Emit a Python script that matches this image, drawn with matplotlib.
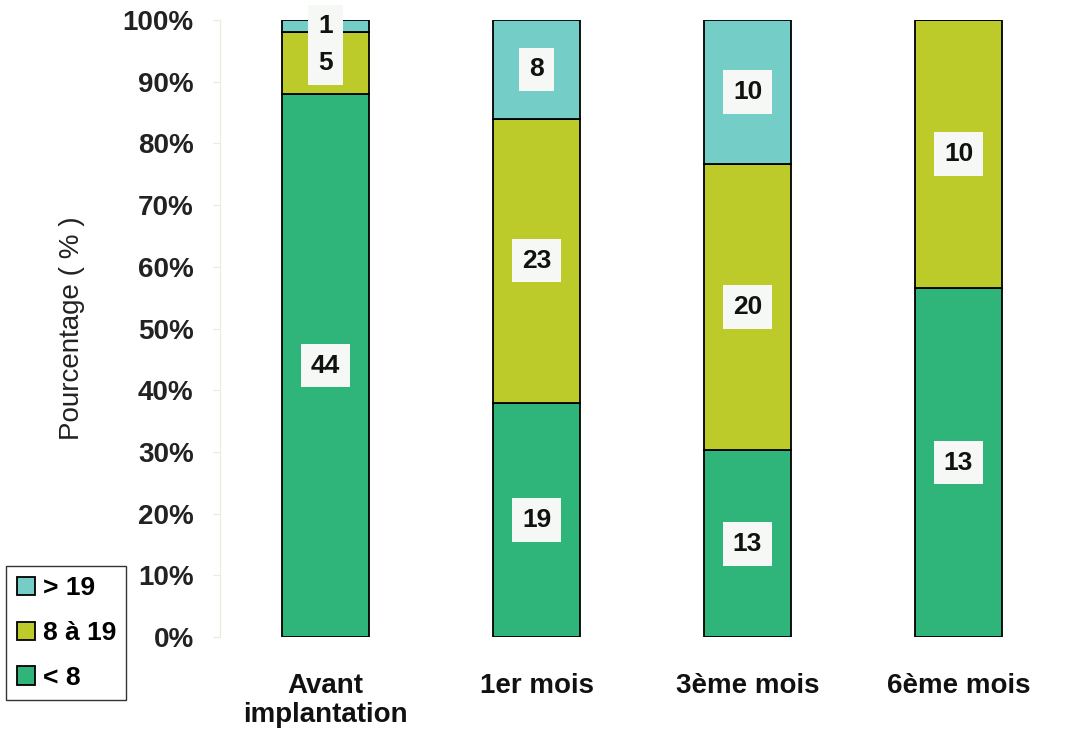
import numpy as np
import matplotlib.pyplot as plt

plt.rcParams['font.family'] = ['Liberation Sans', 'DejaVu Sans']

categories = ['Avant\nimplantation', '1er mois', '3ème mois', '6ème mois']
low = np.array([44, 19, 13, 13])     # < 8
mid = np.array([5, 23, 20, 10])      # 8 à 19
high = np.array([1, 8, 10, 0])       # > 19
series_names = ['< 8', '8 à 19', '> 19']
colors = ['#2fb57a', '#bccb2a', '#74cdc6']

totals = low + mid + high
layers = [low, mid, high]

fig = plt.figure(figsize=(10.65, 7.37), dpi=100)
ax = fig.add_axes([0.2066, 0.1357, 0.7925, 0.837])

x = np.arange(len(categories))
bottom = np.zeros(len(categories))
handles = []
for vals, name, col in zip(layers, series_names, colors):
    pct = vals / totals * 100
    b = ax.bar(x, pct, 0.41, bottom=bottom, color=col, edgecolor='black',
               linewidth=1.3, label=name)
    handles.append(b)
    for xi, v, p, bt in zip(x, vals, pct, bottom):
        if v > 0:
            ax.text(xi, bt + p / 2, str(v), ha='center', va='center',
                    fontsize=19, fontweight='bold', color='#111111',
                    bbox=dict(facecolor='#f5f8f5', edgecolor='none', pad=7))
    bottom += pct

ax.set_xlim(-0.5, 3.5)
ax.set_ylim(0, 100)
ax.set_yticks(np.arange(0, 101, 10))
ax.set_yticklabels([f'{t}%' for t in range(0, 101, 10)], fontsize=20,
                   fontweight='bold', color='#222222')
ax.set_xticks(x)
ax.set_xticklabels(categories, fontsize=20, fontweight='bold', color='#111111',
                   linespacing=1.15)
ax.tick_params(axis='x', length=0, pad=26)
ax.tick_params(axis='y', length=5, color='#e8ecd8', pad=14)
ax.set_ylabel('Pourcentage ( % )', fontsize=20, color='#222222', labelpad=27)

for s in ['top', 'right', 'bottom']:
    ax.spines[s].set_visible(False)
ax.spines['left'].set_color('#e8ecd8')

leg = fig.legend(handles[::-1], series_names[::-1], loc='lower left',
                 bbox_to_anchor=(0.006, 0.05), fontsize=19, frameon=True,
                 fancybox=False, edgecolor='black', handlelength=0.7,
                 handleheight=0.7, handletextpad=0.27, labelspacing=0.78,
                 borderpad=0.4, borderaxespad=0)
leg.get_frame().set_linewidth(1.0)
for t in leg.get_texts():
    t.set_fontweight('bold')

fig.savefig('out.png', dpi=100)
